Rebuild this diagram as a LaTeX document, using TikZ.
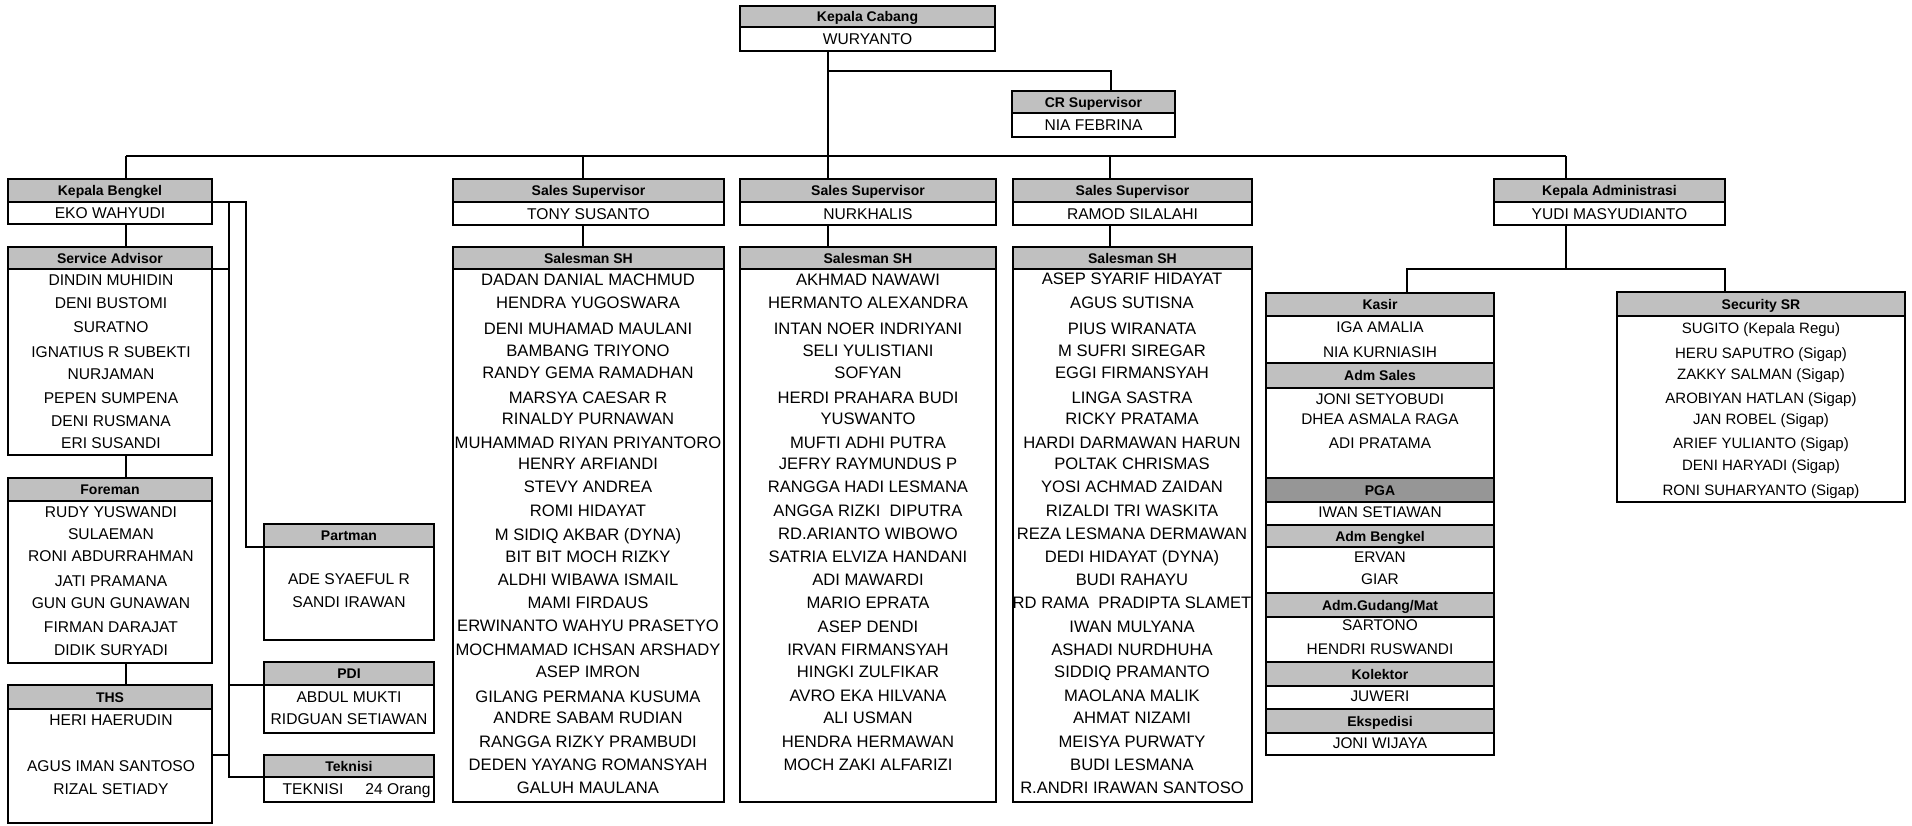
\documentclass[tikz,border=0pt]{standalone}
\usepackage{fontspec}
\setmainfont{Liberation Sans}
\usetikzlibrary{fit}
\definecolor{hdrgray}{HTML}{C0C0C0}
\definecolor{pgagray}{HTML}{969696}
\newcommand\cell[7]{\node[#6, fit={(#2,#3) (#4,#5)}] (#1) {};
  \node[#6txt] (#1t) at (#1.center) {#7};}
\begin{document}
\begin{tikzpicture}[x=0.5pt,y=-0.5pt,
  cellbase/.style={draw=black, line width=1.4pt, inner sep=0pt, outer sep=0pt},
  hdr/.style={cellbase, fill=hdrgray},
  hdrdark/.style={hdr, fill=pgagray},
  body/.style={cellbase, fill=white},
  hdrtxt/.style={anchor=base, yshift=-2.5pt, inner sep=0pt, font=\bfseries\fontsize{7}{8}\selectfont},
  hdrdarktxt/.style={hdrtxt},
  bodytxt/.style={anchor=base, yshift=-2.8pt, inner sep=0pt, font=\fontsize{7.8}{9}\selectfont},
  nm/.style={anchor=base, yshift=-2.8pt, inner sep=0pt, font=\fontsize{7.8}{9}\selectfont},
  nmL/.style={anchor=base, yshift=-2.95pt, inner sep=0pt, font=\fontsize{8.3}{9}\selectfont},
  nmK/.style={anchor=base, yshift=-2.75pt, inner sep=0pt, font=\fontsize{7.7}{9}\selectfont},
  nmS/.style={anchor=base, yshift=-2.7pt, inner sep=0pt, font=\fontsize{7.5}{9}\selectfont},
  conn/.style={line width=1.4pt},
  thinconn/.style={line width=0.6pt}]
\fill[white] (0,0) rectangle (1912,825);
\useasboundingbox (0,0) rectangle (1912,825);
% column / row coordinates
\coordinate (xKB) at (126,0);
\coordinate (xS1) at (583,0);
\coordinate (xS2) at (828,0);
\coordinate (xS3) at (1110,0);
\coordinate (xCR) at (1111,0);
\coordinate (xKA) at (1566,0);
\coordinate (xKs) at (1407,0);
\coordinate (xSc) at (1725,0);
\coordinate (xV1) at (229,0);
\coordinate (xV2) at (246,0);
\coordinate (busY) at (0,156);
\coordinate (crY) at (0,71);
\coordinate (admY) at (0,269);
\coordinate (thsY) at (0,755);
% top
\cell{kcH}{740}{6}{995}{27}{hdr}{Kepala Cabang}
\cell{kcB}{740}{27}{995}{51}{body}{WURYANTO}
\cell{crH}{1012}{91}{1175}{113}{hdr}{CR Supervisor}
\cell{crB}{1012}{113}{1175}{137}{body}{NIA FEBRINA}
% bengkel
\cell{kbH}{8}{179}{212}{202}{hdr}{Kepala Bengkel}
\cell{kbB}{8}{202}{212}{224}{body}{EKO WAHYUDI}
\cell{saH}{8}{247}{212}{269}{hdr}{Service Advisor}
\cell{saB}{8}{269}{212}{455}{body}{}
\cell{foH}{8}{478}{212}{501}{hdr}{Foreman}
\cell{foB}{8}{501}{212}{663}{body}{}
\cell{thH}{8}{685}{212}{709}{hdr}{THS}
\cell{thB}{8}{709}{212}{823}{body}{}
\cell{paH}{264}{524}{434}{547}{hdr}{Partman}
\cell{paB}{264}{547}{434}{640}{body}{}
\cell{pdH}{264}{662}{434}{685}{hdr}{PDI}
\cell{pdB}{264}{685}{434}{733}{body}{}
\cell{tkH}{264}{755}{434}{777}{hdr}{Teknisi}
\cell{tkB}{264}{777}{434}{802}{body}{}
% sales
\cell{ss1H}{453}{179}{724}{202}{hdr}{Sales Supervisor}
\cell{ss1B}{453}{202}{724}{225}{body}{TONY SUSANTO}
\cell{sh1H}{453}{247}{724}{269}{hdr}{Salesman SH}
\cell{sh1B}{453}{269}{724}{802}{body}{}
\cell{ss2H}{740}{179}{996}{202}{hdr}{Sales Supervisor}
\cell{ss2B}{740}{202}{996}{225}{body}{NURKHALIS}
\cell{sh2H}{740}{247}{996}{269}{hdr}{Salesman SH}
\cell{sh2B}{740}{269}{996}{802}{body}{}
\cell{ss3H}{1013}{179}{1252}{202}{hdr}{Sales Supervisor}
\cell{ss3B}{1013}{202}{1252}{225}{body}{RAMOD SILALAHI}
\cell{sh3H}{1013}{247}{1252}{269}{hdr}{Salesman SH}
\cell{sh3B}{1013}{269}{1252}{802}{body}{}
% administrasi
\cell{kaH}{1494}{179}{1725}{202}{hdr}{Kepala Administrasi}
\cell{kaB}{1494}{202}{1725}{225}{body}{YUDI MASYUDIANTO}
\cell{ksH}{1266}{293}{1494}{316}{hdr}{Kasir}
\cell{ksB}{1266}{316}{1494}{363}{body}{}
\cell{asH}{1266}{363}{1494}{388}{hdr}{Adm Sales}
\cell{asB}{1266}{388}{1494}{478}{body}{}
\cell{pgH}{1266}{478}{1494}{502}{hdrdark}{PGA}
\cell{pgB}{1266}{502}{1494}{525}{body}{}
\cell{abH}{1266}{525}{1494}{547}{hdr}{Adm Bengkel}
\cell{abB}{1266}{547}{1494}{593}{body}{}
\cell{agH}{1266}{593}{1494}{617}{hdr}{Adm.Gudang/Mat}
\cell{agB}{1266}{617}{1494}{662}{body}{}
\cell{koH}{1266}{662}{1494}{686}{hdr}{Kolektor}
\cell{koB}{1266}{686}{1494}{709}{body}{}
\cell{exH}{1266}{709}{1494}{733}{hdr}{Ekspedisi}
\cell{exB}{1266}{733}{1494}{755}{body}{}
\cell{scH}{1617}{292}{1905}{316}{hdr}{Security SR}
\cell{scB}{1617}{316}{1905}{502}{body}{}
% name lists
\foreach \yy/\who [count=\i] in {280/DINDIN MUHIDIN, 303/DENI BUSTOMI, 327/SURATNO, 352/IGNATIUS R SUBEKTI, 374/NURJAMAN, 398/PEPEN SUMPENA, 421/DENI RUSMANA, 443/ERI SUSANDI}
  \node[nm] (saN\i) at (111,\yy) {\who};
\foreach \yy/\who [count=\i] in {512/RUDY YUSWANDI, 534/SULAEMAN, 556/RONI ABDURRAHMAN, 581/JATI PRAMANA, 603/GUN GUN GUNAWAN, 627/FIRMAN DARAJAT, 650/DIDIK SURYADI}
  \node[nm] (foN\i) at (111,\yy) {\who};
\foreach \yy/\who [count=\i] in {720/HERI HAERUDIN, 766/AGUS IMAN SANTOSO, 789/RIZAL SETIADY}
  \node[nm] (thN\i) at (111,\yy) {\who};
\foreach \yy/\who [count=\i] in {579/ADE SYAEFUL R, 602/SANDI IRAWAN}
  \node[nm] (paN\i) at (349,\yy) {\who};
\foreach \yy/\who [count=\i] in {697/ABDUL MUKTI, 719/RIDGUAN SETIAWAN}
  \node[nm] (pdN\i) at (349,\yy) {\who};
\node[nm] (tkN1) at (313,789) {TEKNISI};
\node[nm] (tkN2) at (398,789) {24 Orang};
\foreach \yy/\who [count=\i] in {280/DADAN DANIAL MACHMUD, 303/HENDRA YUGOSWARA, 329/DENI MUHAMAD MAULANI, 351/BAMBANG TRIYONO, 373/RANDY GEMA RAMADHAN, 398/MARSYA CAESAR R, 419/RINALDY PURNAWAN, 443/MUHAMMAD RIYAN PRIYANTORO, 464/HENRY ARFIANDI, 487/STEVY ANDREA, 511/ROMI HIDAYAT, 535/M SIDIQ AKBAR (DYNA), 557/BIT BIT MOCH RIZKY, 580/ALDHI WIBAWA ISMAIL, 603/MAMI FIRDAUS, 626/ERWINANTO WAHYU PRASETYO, 650/MOCHMAMAD ICHSAN ARSHADY, 672/ASEP IMRON, 697/GILANG PERMANA KUSUMA, 718/ANDRE SABAM RUDIAN, 742/RANGGA RIZKY PRAMBUDI, 765/DEDEN YAYANG ROMANSYAH, 788/GALUH MAULANA}
  \node[nmL] (shAN\i) at (588,\yy) {\who};
\foreach \yy/\who [count=\i] in {280/AKHMAD NAWAWI, 303/HERMANTO ALEXANDRA, 329/INTAN NOER INDRIYANI, 351/SELI YULISTIANI, 373/SOFYAN, 398/HERDI PRAHARA BUDI, 419/YUSWANTO, 443/MUFTI ADHI PUTRA, 464/JEFRY RAYMUNDUS P, 487/RANGGA HADI LESMANA, 511/ANGGA RIZKI\ \ DIPUTRA, 534/RD.ARIANTO WIBOWO, 557/SATRIA ELVIZA HANDANI, 580/ADI MAWARDI, 603/MARIO EPRATA, 627/ASEP DENDI, 650/IRVAN FIRMANSYAH, 672/HINGKI ZULFIKAR, 696/AVRO EKA HILVANA, 718/ALI USMAN, 742/HENDRA HERMAWAN, 765/MOCH ZAKI ALFARIZI}
  \node[nmL] (shBN\i) at (868,\yy) {\who};
\foreach \yy/\who [count=\i] in {279/ASEP SYARIF HIDAYAT, 303/AGUS SUTISNA, 329/PIUS WIRANATA, 351/M SUFRI SIREGAR, 373/EGGI FIRMANSYAH, 398/LINGA SASTRA, 419/RICKY PRATAMA, 443/HARDI DARMAWAN HARUN, 464/POLTAK CHRISMAS, 487/YOSI ACHMAD ZAIDAN, 511/RIZALDI TRI WASKITA, 534/REZA LESMANA DERMAWAN, 557/DEDI HIDAYAT (DYNA), 580/BUDI RAHAYU, 603/RD RAMA\ \ PRADIPTA SLAMET, 627/IWAN MULYANA, 650/ASHADI NURDHUHA, 672/SIDDIQ PRAMANTO, 696/MAOLANA MALIK, 718/AHMAT NIZAMI, 742/MEISYA PURWATY, 765/BUDI LESMANA, 788/R.ANDRI IRAWAN SANTOSO}
  \node[nmL] (shCN\i) at (1132,\yy) {\who};
\foreach \yy/\who [count=\i] in {327/IGA AMALIA, 352/NIA KURNIASIH, 399/JONI SETYOBUDI, 419/DHEA ASMALA RAGA, 443/ADI PRATAMA, 512/IWAN SETIAWAN, 557/ERVAN, 579/GIAR, 625/SARTONO, 649/HENDRI RUSWANDI, 696/JUWERI, 743/JONI WIJAYA}
  \node[nmK] (ksN\i) at (1380,\yy) {\who};
\foreach \yy/\who [count=\i] in {328/SUGITO (Kepala Regu), 353/HERU SAPUTRO (Sigap), 374/ZAKKY SALMAN (Sigap), 398/AROBIYAN HATLAN (Sigap), 419/JAN ROBEL (Sigap), 443/ARIEF YULIANTO (Sigap), 465/DENI HARYADI (Sigap), 490/RONI SUHARYANTO (Sigap)}
  \node[nmS] (scN\i) at (1761,\yy) {\who};
% connectors
\draw[conn] (kcB.south -| xS2) -- (ss2H.north -| xS2);
\draw[thinconn] (xS2 |- crY) -| (crH.north -| xCR);
\draw[conn] (xKB |- busY) -- (xKA |- busY);
\draw[conn] (xKB |- busY) -- (kbH.north -| xKB);
\draw[conn] (xS1 |- busY) -- (ss1H.north -| xS1);
\draw[conn] (xS3 |- busY) -- (ss3H.north -| xS3);
\draw[conn] (xKA |- busY) -- (kaH.north -| xKA);
\draw[conn] (ss1B.south -| xS1) -- (sh1H.north -| xS1);
\draw[conn] (ss2B.south -| xS2) -- (sh2H.north -| xS2);
\draw[conn] (ss3B.south -| xS3) -- (sh3H.north -| xS3);
\draw[conn] (kbB.south -| xKB) -- (saH.north -| xKB);
\draw[conn] (saB.south -| xKB) -- (foH.north -| xKB);
\draw[conn] (foB.south -| xKB) -- (thH.north -| xKB);
\draw[thinconn] (kbH.south east) -- (kbH.south east -| xV2) -- (paH.south west -| xV2) -- (paH.south west);
\draw[thinconn] (kbH.south east -| xV1) -- (tkH.south west -| xV1) -- (tkH.south west);
\draw[thinconn] (saH.south east) -- (saH.south east -| xV1);
\draw[thinconn] (pdH.south west -| xV1) -- (pdH.south west);
\draw[thinconn] (thB.east |- thsY) -- (xV1 |- thsY);
\draw[conn] (kaB.south -| xKA) -- (xKA |- admY);
\draw[conn] (ksH.north -| xKs) -- (xKs |- admY) -- (xSc |- admY) -- (scH.north -| xSc);
\end{tikzpicture}
\end{document}
